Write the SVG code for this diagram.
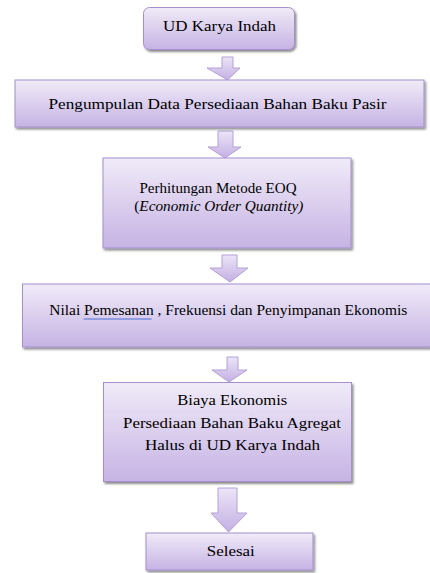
<svg xmlns="http://www.w3.org/2000/svg" width="430" height="573" viewBox="0 0 430 573">
<defs>
<linearGradient id="boxg" x1="0" y1="0" x2="0" y2="1">
<stop offset="0" stop-color="#f0ebf8"/>
<stop offset="1" stop-color="#c6b3e4"/>
</linearGradient>
<linearGradient id="arrg" x1="0" y1="0" x2="0" y2="1">
<stop offset="0" stop-color="#ece5f7"/>
<stop offset="1" stop-color="#c4afe3"/>
</linearGradient>
<filter id="sh" x="-10%" y="-20%" width="130%" height="150%">
<feDropShadow dx="1.5" dy="2" stdDeviation="1.2" flood-color="#000" flood-opacity="0.45"/>
</filter>
</defs>
<style>
.box{fill:url(#boxg);stroke:#a48fcb;stroke-width:1;filter:url(#sh)}
.arr{fill:url(#arrg);stroke:#b5a0d8;stroke-width:1}
.t{font-family:"Liberation Serif","Times New Roman",serif;font-size:15px;fill:#000}
.i{font-style:italic}
</style>
<rect width="430" height="573" fill="#fff"/>
<g id="connectors">
<path class="arr" d="M222,57 H233 V68 H240 L227.5,80 L207,68 H222 Z"/>
<path class="arr" d="M218,131 H233 V147 H241 L225,158 L208,147 H218 Z"/>
<path class="arr" d="M222,255 H237 V268 H248 L230,282 L210,268 H222 Z"/>
<path class="arr" d="M227,357 H238 V370 H247 L229,382 L212,370 H227 Z"/>
<path class="arr" d="M218,488 H237 V513 H247 L228.5,532 L211,513 H218 Z"/>
</g>
<g id="n1">
<rect class="box" x="143.5" y="7.5" width="151" height="42" rx="6"/>
<text class="t" x="219.5" y="31" text-anchor="middle" textLength="113" lengthAdjust="spacingAndGlyphs">UD Karya Indah</text>
</g>
<g id="n2">
<rect class="box" x="15" y="80" width="409" height="47"/>
<text class="t" x="217.5" y="109" text-anchor="middle" textLength="338" lengthAdjust="spacingAndGlyphs">Pengumpulan Data Persediaan Bahan Baku Pasir</text>
</g>
<g id="n3">
<rect class="box" x="103" y="158" width="248" height="90"/>
<text class="t" x="218" y="193" text-anchor="middle" textLength="157" lengthAdjust="spacingAndGlyphs">Perhitungan Metode EOQ</text>
<text class="t" x="218.8" y="211" text-anchor="middle" textLength="169" lengthAdjust="spacingAndGlyphs">(<tspan class="i">Economic Order Quantity)</tspan></text>
</g>
<g id="n4">
<rect class="box" x="22.5" y="284" width="412" height="63"/>
<text class="t" x="228.3" y="315" text-anchor="middle" textLength="358" lengthAdjust="spacingAndGlyphs">Nilai Pemesanan , Frekuensi dan Penyimpanan Ekonomis</text>
<line x1="83.5" y1="319" x2="151.5" y2="319" stroke="#4a6ed0" stroke-width="1.2"/>
</g>
<g id="n5">
<rect class="box" x="103.5" y="382.5" width="248" height="99"/>
<text class="t" x="232.3" y="405" text-anchor="middle" textLength="110" lengthAdjust="spacingAndGlyphs">Biaya Ekonomis</text>
<text class="t" x="232" y="427.5" text-anchor="middle" textLength="218" lengthAdjust="spacingAndGlyphs">Persediaan Bahan Baku Agregat</text>
<text class="t" x="232.5" y="450" text-anchor="middle" textLength="175" lengthAdjust="spacingAndGlyphs">Halus di UD Karya Indah</text>
</g>
<g id="n6">
<rect class="box" x="146" y="533" width="167" height="37"/>
<text class="t" x="230.8" y="556" text-anchor="middle" textLength="48" lengthAdjust="spacingAndGlyphs">Selesai</text>
</g>
</svg>
